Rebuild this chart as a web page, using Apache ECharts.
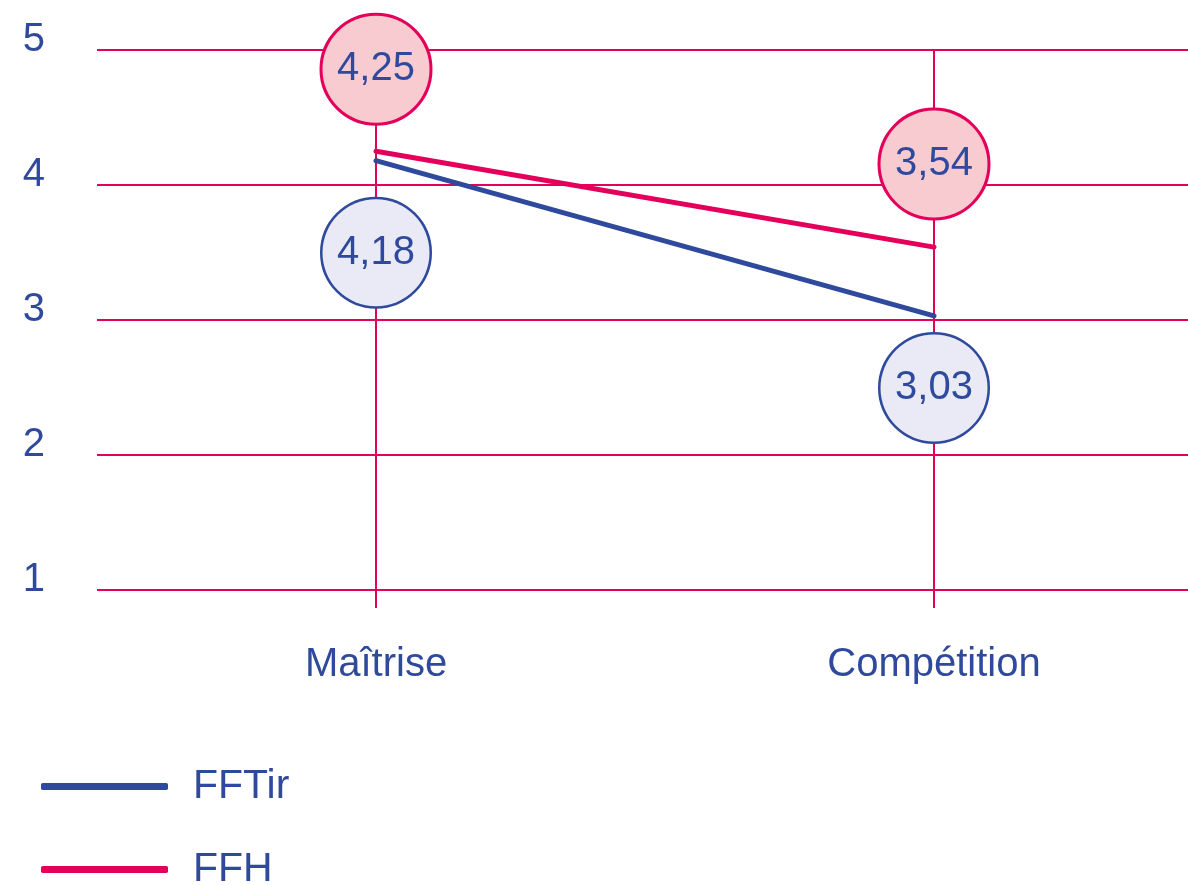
<!DOCTYPE html>
<html>
<head>
<meta charset="utf-8">
<script src="https://cdn.jsdelivr.net/npm/echarts@6/dist/echarts.min.js"></script>
<style>
html,body{margin:0;padding:0;background:#fff;}
#chart{width:1188px;height:885px;}
</style>
</head>
<body>
<div id="chart"></div>
<script>
const categories = ['Maîtrise', 'Compétition'];
const seriesNames = ['FFTir', 'FFH'];
const fftirValues = [4.18, 3.03];
const ffhValues = [4.25, 3.54];
const yTicks = [1, 2, 3, 4, 5];

const BLUE = '#2F4A9C';
const PINK = '#E4005A';
const FONT = 'Liberation Sans, Arial, sans-serif';

// label bubble offsets (positions, style only)
const fftirOffsets = [[0, 92], [0, 72]];
const ffhOffsets = [[0, -82], [0, -83]];

function fmt(v) { return v.toFixed(2).replace('.', ','); }

function bubble(fill, border, bw) {
  return {
    show: true,
    position: 'inside',
    formatter: p => fmt(p.value),
    color: BLUE,
    fontFamily: FONT,
    fontSize: 40,
    width: 107,
    height: 107,
    lineHeight: 109,
    align: 'center',
    verticalAlign: 'middle',
    backgroundColor: fill,
    borderColor: border,
    borderWidth: bw,
    borderRadius: 54
  };
}

function build(values, offsets) {
  return values.map((v, i) => ({ value: v, label: { offset: offsets[i] } }));
}

const chart = echarts.init(document.getElementById('chart'), null, { renderer: 'canvas' });
chart.setOption({
  animation: false,
  backgroundColor: '#fff',
  grid: { left: 97, top: 50, width: 1116, height: 540, outerBoundsMode: 'none', containLabel: false },
  legend: {
    orient: 'vertical',
    left: 41,
    top: 766,
    height: 160,
    padding: 0,
    itemWidth: 127,
    itemHeight: 7,
    itemGap: 42,
    icon: 'roundRect',
    textStyle: { color: BLUE, fontSize: 41, fontFamily: FONT, padding: [0, 0, 0, 20] },
    data: seriesNames
  },
  xAxis: {
    type: 'category',
    data: categories,
    boundaryGap: true,
    axisLine: { show: false },
    axisTick: { show: true, alignWithLabel: true, length: 18, lineStyle: { color: PINK, width: 2 } },
    axisLabel: { color: BLUE, fontSize: 40, fontFamily: FONT, margin: 55 },
    splitLine: { show: false }
  },
  yAxis: {
    type: 'value',
    min: yTicks[0],
    max: yTicks[yTicks.length - 1],
    interval: 1,
    axisLine: { show: false },
    axisTick: { show: false },
    axisLabel: { color: BLUE, fontSize: 40, fontFamily: FONT, margin: 52, verticalAlign: 'bottom', lineHeight: 21 },
    splitLine: { lineStyle: { color: PINK, width: 2 } }
  },
  series: [
    {
      name: '__vlines',
      type: 'line',
      data: [],
      z: 1,
      silent: true,
      markLine: {
        z: 1,
        silent: true,
        symbol: ['none', 'none'],
        label: { show: false },
        lineStyle: { color: PINK, width: 2, type: 'solid' },
        emphasis: { disabled: true },
        data: categories.map(c => ({ xAxis: c }))
      }
    },
    {
      name: seriesNames[0],
      type: 'line',
      z: 3,
      data: build(fftirValues, fftirOffsets),
      symbol: 'circle',
      symbolSize: 2,
      itemStyle: { color: BLUE },
      lineStyle: { color: BLUE, width: 5, cap: 'round' },
      label: bubble('#E9EAF6', BLUE, 2.5),
      emphasis: { disabled: true }
    },
    {
      name: seriesNames[1],
      type: 'line',
      z: 3,
      data: build(ffhValues, ffhOffsets),
      symbol: 'circle',
      symbolSize: 2,
      itemStyle: { color: PINK },
      lineStyle: { color: PINK, width: 5, cap: 'round' },
      label: bubble('#F8CBD1', PINK, 3),
      emphasis: { disabled: true }
    }
  ]
});
</script>
</body>
</html>
